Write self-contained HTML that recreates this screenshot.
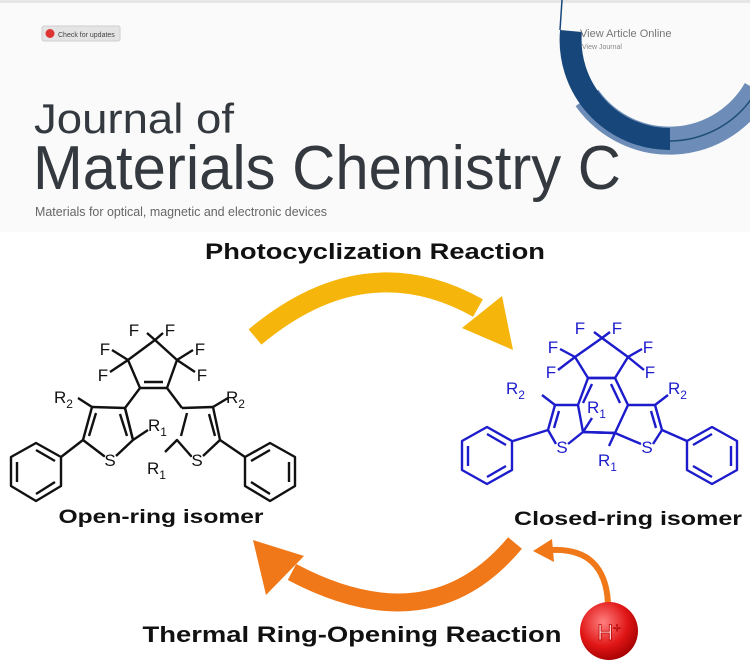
<!DOCTYPE html>
<html><head><meta charset="utf-8"><style>
html,body{margin:0;padding:0;background:#fff;}
svg{display:block;}
</style></head><body>
<svg width="750" height="665" viewBox="0 0 750 665" xmlns="http://www.w3.org/2000/svg">
<defs>
<radialGradient id="rg" cx="0.4" cy="0.35" r="0.7">
<stop offset="0" stop-color="#ff8080"/><stop offset="0.6" stop-color="#e01515"/><stop offset="1" stop-color="#a00000"/>
</radialGradient>
</defs>
<rect width="750" height="665" fill="#fff"/>
<rect width="750" height="232" fill="#fafafa"/>
<rect x="0" y="0" width="750" height="3" fill="#e6e6e6"/>
<!-- check for updates -->
<rect x="42" y="26" width="78" height="15" rx="2" fill="#e4e4e4" stroke="#cfcfcf"/>
<circle cx="50" cy="33.5" r="4.5" fill="#d33"/>
<text x="58" y="37" font-family="Liberation Sans, sans-serif" font-size="7" fill="#444">Check for updates</text>
<!-- arcs -->
<path d="M 587,98 A 101 101 0 0 0 757,90" fill="none" stroke="#6d8db8" stroke-width="28"/>
<path d="M 670,141 A 101 101 0 0 0 752,98" fill="none" stroke="#1f4e79" stroke-width="1.5"/>
<path d="M 571,31 A 99 99 0 0 0 670,139" fill="none" stroke="#17477a" stroke-width="22"/>
<path d="M 562,0 L 560,30" stroke="#17477a" stroke-width="1.5"/>
<text x="580" y="37" font-family="Liberation Sans, sans-serif" font-size="11" fill="#777">View Article Online</text>
<text x="582" y="49" font-family="Liberation Sans, sans-serif" font-size="7" fill="#888">View Journal</text>
<!-- journal title -->
<text x="34" y="133" font-family="Liberation Sans, sans-serif" font-size="42" fill="#33393e" textLength="200" lengthAdjust="spacingAndGlyphs">Journal of</text>
<text x="33" y="189" font-family="Liberation Sans, sans-serif" font-size="62" fill="#33393e" textLength="588" lengthAdjust="spacingAndGlyphs">Materials Chemistry C</text>
<text x="35" y="216" font-family="Liberation Sans, sans-serif" font-size="13" fill="#666" textLength="292" lengthAdjust="spacingAndGlyphs">Materials for optical, magnetic and electronic devices</text>
<!-- titles -->
<text x="375" y="259" text-anchor="middle" font-family="Liberation Sans, sans-serif" font-weight="bold" font-size="22" fill="#111" textLength="340" lengthAdjust="spacingAndGlyphs">Photocyclization Reaction</text>
<text x="352" y="642" text-anchor="middle" font-family="Liberation Sans, sans-serif" font-weight="bold" font-size="22" fill="#111" textLength="419" lengthAdjust="spacingAndGlyphs">Thermal Ring-Opening Reaction</text>
<text x="161" y="523" text-anchor="middle" font-family="Liberation Sans, sans-serif" font-weight="bold" font-size="19" fill="#111" textLength="205" lengthAdjust="spacingAndGlyphs">Open-ring isomer</text>
<text x="628" y="525" text-anchor="middle" font-family="Liberation Sans, sans-serif" font-weight="bold" font-size="19" fill="#111" textLength="228" lengthAdjust="spacingAndGlyphs">Closed-ring isomer</text>
<!-- yellow arrow -->
<path d="M 255,337 Q 365,245 478,308" fill="none" stroke="#f5b50a" stroke-width="20"/>
<polygon points="513,350 462,328 502,296" fill="#f5b50a"/>
<!-- orange arrow -->
<path d="M 515,543 Q 430,645 292,572" fill="none" stroke="#f07818" stroke-width="18"/>
<polygon points="253,540 266,595 304,556" fill="#f07818"/>
<path d="M 608,603 Q 605,548 552,550" fill="none" stroke="#f07818" stroke-width="6"/>
<polygon points="533,551 552,539 554,562" fill="#f07818"/>
<circle cx="609" cy="631" r="29" fill="url(#rg)"/>
<text x="609" y="640" text-anchor="middle" font-family="Liberation Sans, sans-serif" font-size="22" fill="#fdd" stroke="#b00" stroke-width="0.8">H<tspan font-size="13" dy="-8">+</tspan></text>

<!-- open-ring molecule -->
<g fill="none" stroke="#111" stroke-width="2.4" stroke-linejoin="round">
<path d="M155,340 L128,360 L140,388 L167,388 L177,360 Z"/>
<path d="M144,382 L163,382"/>
<path d="M128,360 L112,350 M128,360 L110,372 M155,340 L147,333 M155,340 L163,333 M177,360 L193,350 M177,360 L195,372"/>
<path d="M140,388 L125,408 M167,388 L182,408"/>
<path d="M92,407 L125,408 L133,440 L116,456 M104,456 L83,440 Z"/>
<path d="M125,408 L133,440 M83,440 L92,407"/>
<path d="M120,414 L127,436 M89,436 L96,413"/>
<path d="M92,407 L78,398 M133,440 L148,430"/>
<path d="M83,440 L61,457"/>
<path d="M36,443 L61,457 L61,486 L36,501 L11,486 L11,457 Z M17,462 L17,482 M36,450 L55,461 M36,494 L55,482"/>
<path d="M182,408 L213,407 L220,440 L203,456 M191,456 L177,440 Z"/>
<path d="M187,413 L181,436 M209,414 L215,436"/>
<path d="M213,407 L228,398 M177,440 L165,452"/>
<path d="M220,440 L245,457"/>
<path d="M270,443 L295,457 L295,486 L270,501 L245,486 L245,457 Z M289,462 L289,482 M270,450 L251,461 M270,494 L251,482"/>
</g>
<g font-family="Liberation Sans, sans-serif" font-size="17" fill="#111">
<text x="134" y="336" text-anchor="middle">F</text><text x="170" y="336" text-anchor="middle">F</text>
<text x="105" y="355" text-anchor="middle">F</text><text x="200" y="355" text-anchor="middle">F</text>
<text x="103" y="381" text-anchor="middle">F</text><text x="202" y="381" text-anchor="middle">F</text>
<text x="110" y="466" text-anchor="middle">S</text><text x="197" y="466" text-anchor="middle">S</text>
<text x="54" y="403">R<tspan font-size="12" dy="5">2</tspan></text>
<text x="226" y="403">R<tspan font-size="12" dy="5">2</tspan></text>
<text x="148" y="431">R<tspan font-size="12" dy="5">1</tspan></text>
<text x="147" y="474">R<tspan font-size="12" dy="5">1</tspan></text>
</g>

<!-- closed-ring molecule -->
<g fill="none" stroke="#1c1ccc" stroke-width="2.4" stroke-linejoin="round">
<path d="M602,338 L575,357 L588,378 L615,378 L628,357 Z"/>
<path d="M575,357 L560,349 M575,357 L558,370 M602,338 L594,332 M602,338 L610,332 M628,357 L642,349 M628,357 L644,370"/>
<path d="M588,378 L615,378 L628,405 L615,433 L583,432 L578,405 Z"/>
<path d="M592,384 L583,403 M611,384 L620,403"/>
<path d="M583,432 L615,433"/>
<path d="M578,405 L555,405 L548,430 L556,444 M568,444 L583,432"/>
<path d="M559,411 L554,428"/>
<path d="M628,405 L655,405 L662,430 L653,444 M641,444 L615,433"/>
<path d="M651,411 L656,428"/>
<path d="M555,405 L542,395 M655,405 L668,395"/>
<path d="M583,432 L592,418 M615,433 L609,446"/>
<path d="M548,430 L513,441"/>
<path d="M487,427 L512,441 L512,470 L487,484 L462,470 L462,441 Z M468,446 L468,466 M487,434 L506,445 M487,477 L506,466"/>
<path d="M662,430 L687,441"/>
<path d="M712,427 L737,441 L737,470 L712,484 L687,470 L687,441 Z M731,446 L731,466 M712,434 L693,445 M712,477 L693,466"/>
</g>
<g font-family="Liberation Sans, sans-serif" font-size="17" fill="#1c1ccc">
<text x="580" y="334" text-anchor="middle">F</text><text x="617" y="334" text-anchor="middle">F</text>
<text x="553" y="353" text-anchor="middle">F</text><text x="648" y="353" text-anchor="middle">F</text>
<text x="551" y="378" text-anchor="middle">F</text><text x="650" y="378" text-anchor="middle">F</text>
<text x="562" y="453" text-anchor="middle">S</text><text x="647" y="453" text-anchor="middle">S</text>
<text x="506" y="394">R<tspan font-size="12" dy="5">2</tspan></text>
<text x="668" y="394">R<tspan font-size="12" dy="5">2</tspan></text>
<text x="587" y="413">R<tspan font-size="12" dy="5">1</tspan></text>
<text x="598" y="466">R<tspan font-size="12" dy="5">1</tspan></text>
</g>
</svg>
</body></html>
